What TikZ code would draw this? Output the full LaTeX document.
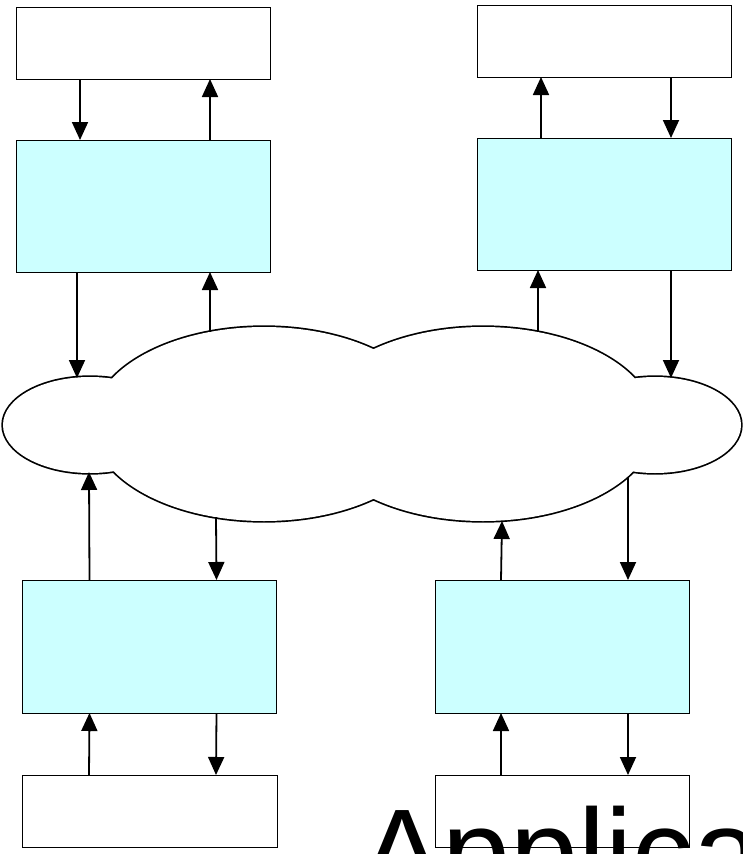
\documentclass[tikz,border=0pt]{standalone}
\usepackage{fontspec}
\setmainfont{Liberation Sans}
\usetikzlibrary{arrows.meta,calc}
\definecolor{boxcyan}{HTML}{CCFFFF}
\tikzset{
 wbox/.style={draw=black, line width=0.9pt, fill=white, minimum width=254pt, minimum height=72pt, inner sep=0pt, outer sep=0pt},
 cbox/.style={draw=black, line width=0.9pt, fill=boxcyan, minimum width=254pt, minimum height=133pt, inner sep=0pt, outer sep=0pt},
 arr/.style={line width=1.8pt, -{Triangle[length=18pt,width=16pt]}},
 cloudline/.style={line width=3.4pt},
}
\begin{document}
\begin{tikzpicture}[x=1pt,y=-1pt]
\useasboundingbox (0,0) rectangle (743,854);
\clip (0,0) rectangle (743,854);
\fill[white] (0,0) rectangle (743,854);
% boxes
\node[wbox] (tl) at (143,43) {};
\node[cbox, minimum height=132pt] (tlc) at (143,206) {};
\node[wbox] (tr) at (604,41) {};
\node[cbox, minimum height=132pt] (trc) at (604,204) {};
\node[cbox] (blc) at (149.5,646.5) {};
\node[wbox, minimum width=255pt] (bl) at (149.5,811) {};
\node[cbox] (brc) at (562,646.5) {};
\node[wbox] (br) at (562,811) {};
% cloud
\draw[cloudline] (90,425) ellipse [x radius=87pt, y radius=48pt]
  (655,425) ellipse [x radius=86pt, y radius=48pt]
  (264,424) ellipse [x radius=172pt, y radius=97pt]
  (483,424) ellipse [x radius=172pt, y radius=97pt];
\fill[white] (90,425) ellipse [x radius=87pt, y radius=48pt]
  (655,425) ellipse [x radius=86pt, y radius=48pt]
  (264,424) ellipse [x radius=172pt, y radius=97pt]
  (483,424) ellipse [x radius=172pt, y radius=97pt];
\coordinate (c1) at (77,378);
\coordinate (c2) at (210,332);
\coordinate (c3) at (538,332);
\coordinate (c4) at (671,378);
\coordinate (c5) at (89,472);
\coordinate (c6) at (216,517);
\coordinate (c7) at (502,521);
\coordinate (c8) at (628,477);
% top-left arrows
\draw[arr] ([xshift=64pt]tl.south west) -- ([xshift=64pt]tlc.north west);
\draw[arr] ([xshift=194pt]tlc.north west) -- ([xshift=194pt]tl.south west);
\draw[arr] ([xshift=61pt]tlc.south west) -- (c1);
\draw[arr] (c2) -- ([xshift=194pt]tlc.south west);
% top-right arrows
\draw[arr] ([xshift=64pt]trc.north west) -- ([xshift=64pt]tr.south west);
\draw[arr] ([xshift=194pt]tr.south west) -- ([xshift=194pt]trc.north west);
\draw[arr] (c3) -- ([xshift=61pt]trc.south west);
\draw[arr] ([xshift=194pt]trc.south west) -- (c4);
% bottom-left arrows
\draw[arr] ([xshift=67pt]blc.north west) -- (c5);
\draw[arr] (c6) -- ([xshift=194pt]blc.north west);
\draw[arr] ([xshift=67pt]bl.north west) -- ([xshift=67pt]blc.south west);
\draw[arr] ([xshift=194pt]blc.south west) -- ([xshift=194pt]bl.north west);
% bottom-right arrows
\draw[arr] ([xshift=66pt]brc.north west) -- (c7);
\draw[arr] (c8) -- ([xshift=193pt]brc.north west);
\draw[arr] ([xshift=66pt]br.north west) -- ([xshift=66pt]brc.south west);
\draw[arr] ([xshift=193pt]brc.south west) -- ([xshift=193pt]br.north west);
% text
\node[anchor=base west, inner sep=0pt, font=\fontsize{122}{130}\selectfont] (title) at (361,894) {Applica};
\end{tikzpicture}
\end{document}
